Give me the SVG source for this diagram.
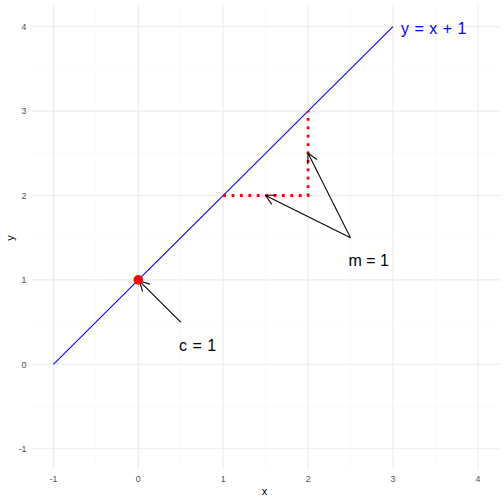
<svg xmlns="http://www.w3.org/2000/svg" width="504" height="504" viewBox="0 0 504 504">
<defs>
<style>
.maj{stroke:#ebebeb;stroke-width:1.07}
.min{stroke:#f3f3f3;stroke-width:0.53}
.tick{font-family:"Liberation Sans",Arial,sans-serif;font-size:8.8px;fill:#4d4d4d}
.title{font-family:"Liberation Sans",Arial,sans-serif;font-size:11px;fill:#000}
.lab{font-family:"Liberation Sans",Arial,sans-serif;font-size:16px}
.arr{stroke:#000;stroke-width:1.07;fill:none}
</style>
<marker id="ah" viewBox="0 0 12 12" refX="10" refY="6" markerWidth="12" markerHeight="12" markerUnits="userSpaceOnUse" orient="auto">
<path d="M0.5,0.8 L10,6 L0.5,11.2" fill="none" stroke="#000" stroke-width="1.07"/>
</marker>
</defs>
<rect width="504" height="504" fill="#fff"/>
<g id="grid">
<g class="min">
<line x1="95.8" y1="5" x2="95.8" y2="469"/>
<line x1="180.7" y1="5" x2="180.7" y2="469"/>
<line x1="265.6" y1="5" x2="265.6" y2="469"/>
<line x1="350.5" y1="5" x2="350.5" y2="469"/>
<line x1="435.4" y1="5" x2="435.4" y2="469"/>
<line x1="32" y1="68.9" x2="500" y2="68.9"/>
<line x1="32" y1="153.3" x2="500" y2="153.3"/>
<line x1="32" y1="237.7" x2="500" y2="237.7"/>
<line x1="32" y1="322.1" x2="500" y2="322.1"/>
<line x1="32" y1="406.5" x2="500" y2="406.5"/>
</g>
<g class="maj">
<line x1="53.4" y1="5" x2="53.4" y2="469"/>
<line x1="138.3" y1="5" x2="138.3" y2="469"/>
<line x1="223.2" y1="5" x2="223.2" y2="469"/>
<line x1="308.1" y1="5" x2="308.1" y2="469"/>
<line x1="393" y1="5" x2="393" y2="469"/>
<line x1="477.9" y1="5" x2="477.9" y2="469"/>
<line x1="32" y1="26.7" x2="500" y2="26.7"/>
<line x1="32" y1="111.1" x2="500" y2="111.1"/>
<line x1="32" y1="195.5" x2="500" y2="195.5"/>
<line x1="32" y1="279.9" x2="500" y2="279.9"/>
<line x1="32" y1="364.3" x2="500" y2="364.3"/>
<line x1="32" y1="448.7" x2="500" y2="448.7"/>
</g>
</g>
<g id="axes">
<g class="tick" text-anchor="middle">
<text x="53.4" y="482">-1</text>
<text x="138.3" y="482">0</text>
<text x="223.2" y="482">1</text>
<text x="308.1" y="482">2</text>
<text x="393" y="482">3</text>
<text x="477.9" y="482">4</text>
</g>
<g class="tick" text-anchor="end">
<text x="26.5" y="29.9">4</text>
<text x="26.5" y="114.3">3</text>
<text x="26.5" y="198.7">2</text>
<text x="26.5" y="283.1">1</text>
<text x="26.5" y="367.5">0</text>
<text x="26.5" y="451.9">-1</text>
</g>
<text class="title" x="264.5" y="495" text-anchor="middle">x</text>
<text class="title" transform="translate(14,238) rotate(-90)" text-anchor="middle">y</text>
</g>
<g id="line">
<line x1="53.4" y1="364.3" x2="393" y2="26.7" stroke="#0000ff" stroke-width="1.07"/>
</g>
<g id="slope">
<path d="M223.2,195.5 L308.1,195.5 L308.1,111.1" fill="none" stroke="#ff0000" stroke-width="2.8" stroke-dasharray="2.8 5.6"/>
</g>
<g id="connectors">
<line class="arr" x1="350.5" y1="237.7" x2="265.6" y2="195.5" marker-end="url(#ah)"/>
<line class="arr" x1="350.5" y1="237.7" x2="308.1" y2="153.3" marker-end="url(#ah)"/>
<line class="arr" x1="180.7" y1="322.1" x2="139.5" y2="281.1" marker-end="url(#ah)"/>
</g>
<g id="intercept">
<circle cx="138.3" cy="279.9" r="4.8" fill="#ff0000"/>
</g>
<g id="labels">
<text class="lab" x="401" y="33.5" fill="#0000ff" word-spacing="1">y = x + 1</text>
<text class="lab" x="348.5" y="265.5" fill="#000">m = 1</text>
<text class="lab" x="179" y="350.5" fill="#000" word-spacing="1">c = 1</text>
</g>
</svg>
